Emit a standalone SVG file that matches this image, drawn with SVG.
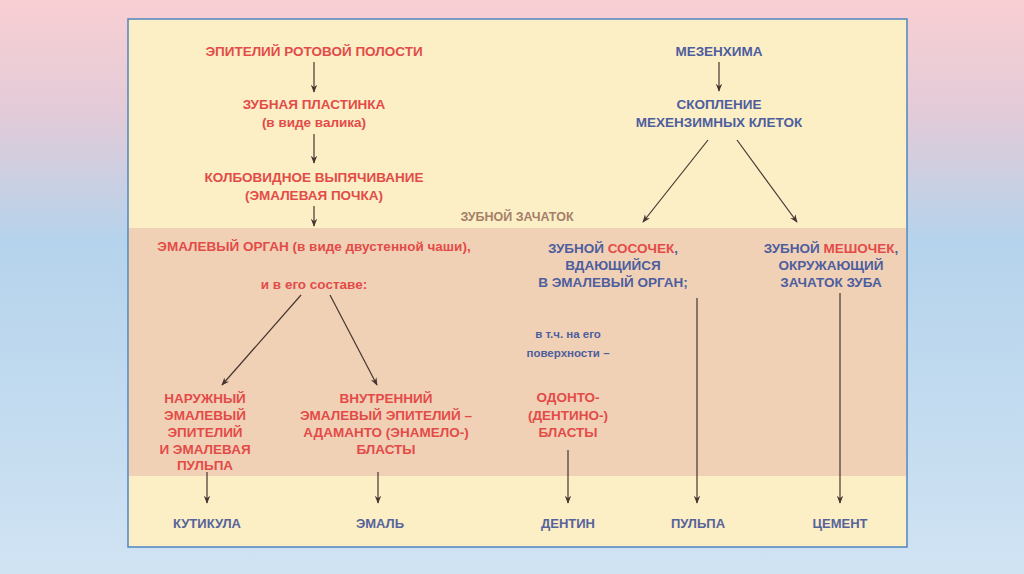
<svg xmlns="http://www.w3.org/2000/svg" width="1024" height="574" viewBox="0 0 1024 574">
<defs>
<linearGradient id="bg" x1="0" y1="0" x2="0" y2="1">
<stop offset="0" stop-color="#f9cfd3"/>
<stop offset="0.2" stop-color="#e2cbd8"/>
<stop offset="0.42" stop-color="#b5d3ec"/>
<stop offset="1" stop-color="#d0e3f3"/>
</linearGradient>
<marker id="ah" viewBox="0 0 10 10" refX="9" refY="5" markerWidth="8" markerHeight="10" orient="auto" markerUnits="userSpaceOnUse">
<path d="M0,1 L10,5 L0,9 L3,5 Z" fill="#45352f"/>
</marker>
<style>
text{font-family:"Liberation Sans",Arial,sans-serif;font-weight:bold;font-size:13.5px;text-anchor:middle}
.r{fill:#e34b48}
.b{fill:#4d5e9e}
.z{fill:#a58068}
.bt{font-size:13px;fill:#56639a}
.s{font-size:11.5px}
.c line{stroke:#45352f;stroke-width:1.2}
.c .a{marker-end:url(#ah)}
</style>
</defs>
<rect width="1024" height="574" fill="url(#bg)"/>
<rect x="128" y="19" width="779" height="528" fill="#fcefc6" stroke="#4f86bf" stroke-width="1.5"/>
<rect x="129" y="228" width="777" height="248" fill="#f1d1b6"/>

<g id="n-epithelium"><text class="r" x="314" y="56">ЭПИТЕЛИЙ РОТОВОЙ ПОЛОСТИ</text></g>
<g id="n-plate"><text class="r" x="314" y="109">ЗУБНАЯ ПЛАСТИНКА</text><text class="r" x="314" y="127">(в виде валика)</text></g>
<g id="n-bud"><text class="r" x="314" y="182">КОЛБОВИДНОЕ ВЫПЯЧИВАНИЕ</text><text class="r" x="314" y="200">(ЭМАЛЕВАЯ ПОЧКА)</text></g>
<g id="n-germ"><text class="z" x="517" y="221" style="font-size:12.5px">ЗУБНОЙ ЗАЧАТОК</text></g>
<g id="n-mesenchyme"><text class="b" x="719" y="56">МЕЗЕНХИМА</text></g>
<g id="n-cluster"><text class="b" x="719" y="109">СКОПЛЕНИЕ</text><text class="b" x="719" y="127">МЕХЕНЗИМНЫХ КЛЕТОК</text></g>
<g id="n-organ"><text class="r" x="314" y="251">ЭМАЛЕВЫЙ ОРГАН (в виде двустенной чаши),</text><text class="r" x="314" y="289">и в его составе:</text></g>
<g id="n-outer"><text class="r" x="205" y="403">НАРУЖНЫЙ</text><text class="r" x="205" y="420">ЭМАЛЕВЫЙ</text><text class="r" x="205" y="437">ЭПИТЕЛИЙ</text><text class="r" x="205" y="454">И ЭМАЛЕВАЯ</text><text class="r" x="205" y="470">ПУЛЬПА</text></g>
<g id="n-inner"><text class="r" x="386" y="403">ВНУТРЕННИЙ</text><text class="r" x="386" y="420">ЭМАЛЕВЫЙ ЭПИТЕЛИЙ –</text><text class="r" x="386" y="437">АДАМАНТО (ЭНАМЕЛО-)</text><text class="r" x="386" y="454">БЛАСТЫ</text></g>
<g id="n-papilla"><text class="b" x="613" y="253">ЗУБНОЙ <tspan class="r">СОСОЧЕК</tspan>,</text><text class="b" x="613" y="270">ВДАЮЩИЙСЯ</text><text class="b" x="613" y="287">В ЭМАЛЕВЫЙ ОРГАН;</text></g>
<g id="n-sac"><text class="b" x="831" y="253">ЗУБНОЙ <tspan class="r">МЕШОЧЕК</tspan>,</text><text class="b" x="831" y="270">ОКРУЖАЮЩИЙ</text><text class="b" x="831" y="287">ЗАЧАТОК ЗУБА</text></g>
<g id="n-surface"><text class="b s" x="568" y="338">в т.ч. на его</text><text class="b s" x="568" y="357">поверхности –</text></g>
<g id="n-odonto"><text class="r" x="568" y="402">ОДОНТО-</text><text class="r" x="568" y="420">(ДЕНТИНО-)</text><text class="r" x="568" y="437">БЛАСТЫ</text></g>
<g id="n-cuticle"><text class="bt" x="207" y="528">КУТИКУЛА</text></g>
<g id="n-enamel"><text class="bt" x="380" y="528">ЭМАЛЬ</text></g>
<g id="n-dentin"><text class="bt" x="568" y="528">ДЕНТИН</text></g>
<g id="n-pulp"><text class="bt" x="698" y="528">ПУЛЬПА</text></g>
<g id="n-cement"><text class="bt" x="840" y="528">ЦЕМЕНТ</text></g>

<g id="connectors" class="c">
<line class="a" x1="314" y1="62" x2="314" y2="92"/>
<line class="a" x1="314" y1="134" x2="314" y2="163"/>
<line class="a" x1="314" y1="206" x2="314" y2="226"/>
<line class="a" x1="719" y1="62" x2="719" y2="91"/>
<line class="a" x1="708" y1="140" x2="643" y2="222"/>
<line class="a" x1="737" y1="140" x2="797" y2="222"/>
<line class="a" x1="301" y1="295" x2="222" y2="385"/>
<line class="a" x1="330" y1="295" x2="377" y2="385"/>
<line class="a" x1="207" y1="472" x2="207" y2="503"/>
<line class="a" x1="378" y1="472" x2="378" y2="503"/>
<line class="a" x1="568" y1="450" x2="568" y2="503"/>
<line class="a" x1="697" y1="298" x2="697" y2="503"/>
<line class="a" x1="840" y1="293" x2="840" y2="503"/>
</g>
</svg>
